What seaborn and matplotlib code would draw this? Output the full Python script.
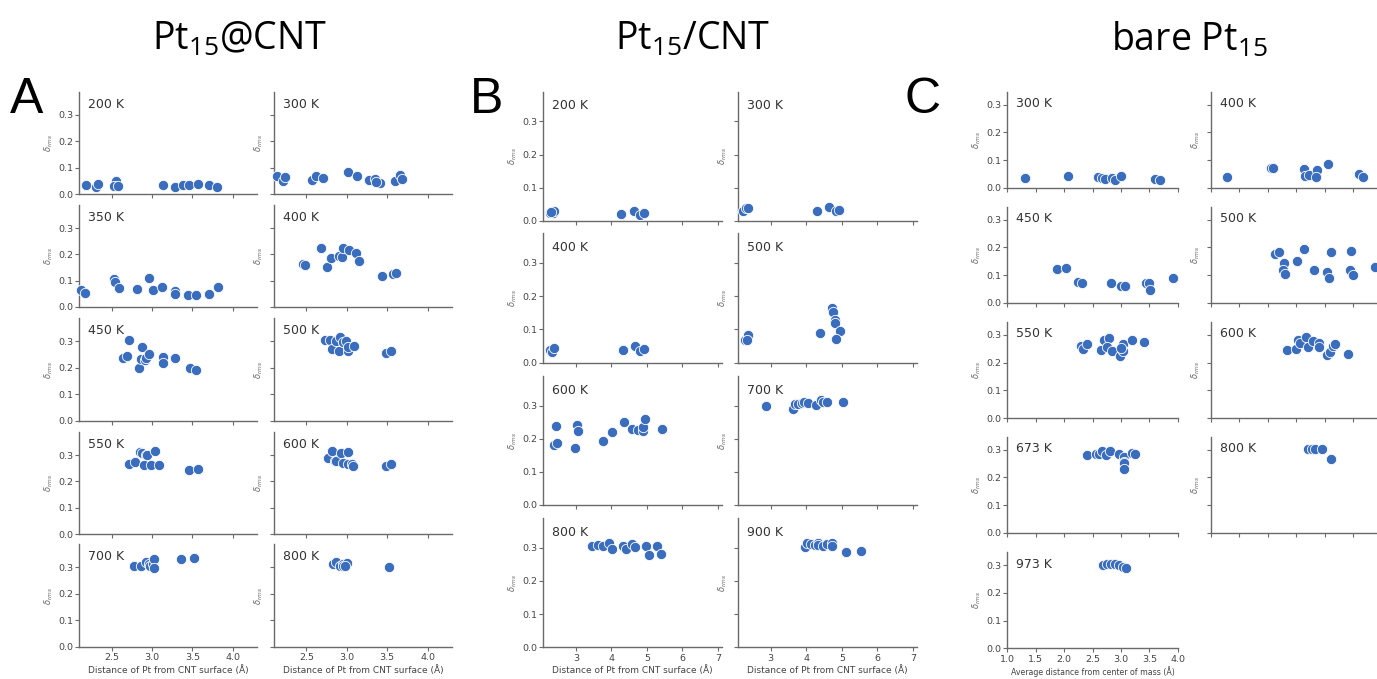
import matplotlib
matplotlib.use("Agg")
import matplotlib.pyplot as plt
import seaborn as sns
import pandas as pd

# ---------------- data ----------------
# Panel A: Pt15@CNT
a_200_x = [2.18, 2.31, 2.33, 2.56, 2.53, 2.58, 3.14, 3.29, 3.39, 3.46, 3.57, 3.70, 3.80]
a_200_y = [0.034, 0.026, 0.037, 0.048, 0.029, 0.029, 0.033, 0.026, 0.033, 0.034, 0.037, 0.034, 0.026]
a_300_x = [2.14, 2.21, 2.23, 2.57, 2.62, 2.70, 3.02, 3.12, 3.28, 3.35, 3.41, 3.36, 3.60, 3.66, 3.68]
a_300_y = [0.067, 0.048, 0.064, 0.053, 0.069, 0.059, 0.082, 0.067, 0.054, 0.058, 0.042, 0.044, 0.050, 0.071, 0.058]
a_350_x = [2.12, 2.17, 2.53, 2.54, 2.59, 2.82, 2.96, 3.01, 3.13, 3.28, 3.28, 3.44, 3.55, 3.71, 3.82]
a_350_y = [0.063, 0.053, 0.106, 0.094, 0.071, 0.067, 0.109, 0.063, 0.076, 0.061, 0.048, 0.046, 0.047, 0.051, 0.077]
a_400_x = [2.46, 2.48, 2.68, 2.75, 2.80, 2.90, 2.94, 2.95, 3.03, 3.11, 3.15, 3.44, 3.57, 3.61]
a_400_y = [0.165, 0.158, 0.223, 0.153, 0.187, 0.195, 0.190, 0.223, 0.216, 0.206, 0.175, 0.119, 0.125, 0.130]
a_450_x = [2.64, 2.69, 2.71, 2.84, 2.88, 2.87, 2.91, 2.93, 2.96, 3.14, 3.14, 3.29, 3.47, 3.54]
a_450_y = [0.238, 0.243, 0.304, 0.200, 0.278, 0.233, 0.228, 0.239, 0.251, 0.241, 0.220, 0.239, 0.200, 0.194]
a_500_x = [2.73, 2.79, 2.82, 2.87, 2.91, 2.90, 2.95, 2.99, 3.02, 3.02, 3.09, 3.49, 3.55]
a_500_y = [0.304, 0.304, 0.273, 0.301, 0.316, 0.262, 0.296, 0.300, 0.262, 0.278, 0.284, 0.256, 0.263]
a_550_x = [2.71, 2.79, 2.85, 2.88, 2.92, 2.94, 2.90, 2.99, 3.04, 3.09, 3.46, 3.57]
a_550_y = [0.266, 0.274, 0.311, 0.308, 0.299, 0.300, 0.262, 0.261, 0.316, 0.262, 0.244, 0.248]
a_600_x = [2.77, 2.82, 2.85, 2.87, 2.93, 2.95, 3.02, 3.02, 3.07, 3.08, 3.48, 3.55]
a_600_y = [0.291, 0.314, 0.276, 0.278, 0.309, 0.271, 0.313, 0.266, 0.268, 0.258, 0.259, 0.265]
a_700_x = [2.78, 2.86, 2.93, 2.96, 2.98, 3.01, 3.02, 3.02, 3.36, 3.52]
a_700_y = [0.304, 0.305, 0.322, 0.314, 0.304, 0.312, 0.331, 0.297, 0.330, 0.335]
a_800_x = [2.83, 2.87, 2.91, 2.95, 2.95, 3.00, 2.98, 3.52]
a_800_y = [0.311, 0.320, 0.306, 0.314, 0.304, 0.316, 0.304, 0.300]

# Panel B: Pt15/CNT
b_200_x = [2.27, 2.34, 2.39, 2.29, 4.28, 4.64, 4.81, 4.92]
b_200_y = [0.022, 0.024, 0.029, 0.027, 0.020, 0.030, 0.018, 0.022]
b_300_x = [2.21, 2.31, 2.36, 4.30, 4.65, 4.82, 4.91]
b_300_y = [0.030, 0.037, 0.039, 0.029, 0.042, 0.029, 0.033]
b_400_x = [2.27, 2.32, 2.38, 4.33, 4.67, 4.81, 4.92]
b_400_y = [0.038, 0.033, 0.045, 0.037, 0.051, 0.036, 0.040]
b_500_x = [2.28, 2.37, 2.32, 4.38, 4.72, 4.74, 4.80, 4.80, 4.94, 4.84]
b_500_y = [0.069, 0.082, 0.067, 0.089, 0.163, 0.152, 0.127, 0.119, 0.095, 0.071]
b_600_x = [2.38, 2.47, 2.44, 2.98, 3.02, 3.05, 3.75, 4.02, 4.35, 4.57, 4.76, 4.88, 4.90, 4.95, 5.43]
b_600_y = [0.182, 0.188, 0.240, 0.172, 0.243, 0.225, 0.194, 0.222, 0.252, 0.229, 0.227, 0.223, 0.235, 0.260, 0.231]
b_700_x = [2.88, 3.63, 3.69, 3.77, 3.89, 3.94, 4.06, 4.27, 4.42, 4.48, 4.58, 5.02]
b_700_y = [0.300, 0.290, 0.304, 0.304, 0.307, 0.311, 0.309, 0.303, 0.317, 0.311, 0.310, 0.310]
b_800_x = [3.46, 3.61, 3.75, 3.93, 4.03, 4.32, 4.40, 4.58, 4.66, 4.98, 5.06, 5.29, 5.41]
b_800_y = [0.306, 0.308, 0.307, 0.316, 0.296, 0.305, 0.298, 0.312, 0.302, 0.307, 0.279, 0.307, 0.282]
b_900_x = [3.96, 4.02, 4.13, 4.23, 4.32, 4.33, 4.48, 4.58, 4.71, 4.72, 5.12, 5.54]
b_900_y = [0.304, 0.314, 0.311, 0.308, 0.314, 0.308, 0.306, 0.312, 0.314, 0.306, 0.286, 0.289]

# Panel C: bare Pt15
c_300_x = [1.32, 2.06, 2.60, 2.67, 2.72, 2.84, 2.90, 3.00, 3.60, 3.69]
c_300_y = [0.034, 0.042, 0.040, 0.034, 0.031, 0.036, 0.028, 0.043, 0.030, 0.028]
c_400_x = [1.29, 2.06, 2.09, 2.64, 2.66, 2.73, 2.86, 2.85, 3.06, 3.60, 3.68]
c_400_y = [0.039, 0.072, 0.070, 0.067, 0.042, 0.046, 0.065, 0.040, 0.086, 0.049, 0.037]
c_450_x = [1.87, 2.03, 2.25, 2.31, 2.82, 3.00, 3.07, 3.44, 3.50, 3.52, 3.91]
c_450_y = [0.122, 0.125, 0.076, 0.072, 0.070, 0.061, 0.059, 0.072, 0.072, 0.046, 0.090]
c_500_x = [2.13, 2.19, 2.29, 2.26, 2.31, 2.52, 2.64, 2.82, 3.05, 3.07, 3.11, 3.46, 3.45, 3.50, 3.88]
c_500_y = [0.175, 0.184, 0.145, 0.120, 0.104, 0.152, 0.194, 0.118, 0.110, 0.090, 0.184, 0.187, 0.118, 0.099, 0.130]
c_550_x = [2.30, 2.34, 2.41, 2.65, 2.71, 2.79, 2.75, 2.84, 2.98, 3.03, 3.03, 3.01, 3.20, 3.41]
c_550_y = [0.261, 0.249, 0.266, 0.245, 0.283, 0.289, 0.255, 0.241, 0.222, 0.266, 0.243, 0.253, 0.283, 0.274]
c_600_x = [2.33, 2.50, 2.54, 2.56, 2.67, 2.70, 2.80, 2.90, 2.91, 3.04, 3.10, 3.14, 3.18, 3.42]
c_600_y = [0.244, 0.249, 0.283, 0.271, 0.293, 0.256, 0.277, 0.271, 0.256, 0.227, 0.239, 0.261, 0.266, 0.232]
c_673_x = [2.40, 2.56, 2.62, 2.66, 2.73, 2.80, 2.97, 3.05, 3.06, 3.06, 3.06, 3.20, 3.25]
c_673_y = [0.281, 0.286, 0.284, 0.296, 0.281, 0.296, 0.284, 0.275, 0.256, 0.251, 0.232, 0.290, 0.286]
c_800_x = [2.70, 2.77, 2.83, 2.95, 3.12]
c_800_y = [0.301, 0.302, 0.302, 0.301, 0.268]
c_973_x = [2.69, 2.75, 2.82, 2.90, 2.96, 3.03, 3.09]
c_973_y = [0.300, 0.303, 0.304, 0.303, 0.300, 0.295, 0.292]

panel_titles = ["Pt$_{15}$@CNT", "Pt$_{15}$/CNT", "bare Pt$_{15}$"]
panel_letters = ["A", "B", "C"]
xlabel_ab = "Distance of Pt from CNT surface (Å)"
xlabel_c = "Average distance from center of mass (Å)"
ylabel = r"$\delta_{rms}$"

# ---------------- style ----------------
sns.set_theme(style="ticks")
plt.rcParams["font.family"] = ["DejaVu Sans"]
plt.rcParams["mathtext.fontset"] = "dejavusans"

W, H = 1377, 679
fig = plt.figure(figsize=(W / 100, H / 100), dpi=100)

POINT = "#3a6dbd"
SPINE = "#6a6a6a"
TXT = "#444444"


def add_ax(x0, top, x1, bottom):
    return fig.add_axes([x0 / W, 1 - bottom / H, (x1 - x0) / W, (bottom - top) / H])


def draw(ax, xs, ys, label, xlim, ylim, xticks, show_ylabels, show_xlabels, xlabel=None):
    df = pd.DataFrame({"x": xs, "y": ys})
    sns.scatterplot(data=df, x="x", y="y", ax=ax, color=POINT, s=55,
                    edgecolor="white", linewidth=0.6, legend=False, zorder=3, clip_on=False)
    ax.set_xlim(*xlim)
    ax.set_ylim(*ylim)
    ax.set_xticks(xticks)
    ax.set_yticks([0.0, 0.1, 0.2, 0.3])
    sns.despine(ax=ax)
    for s in ("left", "bottom"):
        ax.spines[s].set_color(SPINE)
        ax.spines[s].set_linewidth(1.0)
    ax.tick_params(axis="both", length=3, width=0.8, color=SPINE, labelsize=6.8,
                   labelcolor=TXT, pad=1.5)
    if not show_ylabels:
        ax.set_yticklabels([])
    else:
        ax.set_yticklabels(["0.0", "0.1", "0.2", "0.3"])
    if not show_xlabels:
        ax.set_xticklabels([])
    ax.set_ylabel(ylabel, fontsize=6, color="#666666", labelpad=2)
    ax.set_xlabel(xlabel if xlabel else "", fontsize=6.5, color=TXT, labelpad=2)
    ax.text(0.05, 0.94, label, transform=ax.transAxes, ha="left", va="top",
            fontsize=9, color="#333333")


# ---------- Panel A ----------
a_cols = [(79.3, 257), (274, 452)]
a_rows = [(91.7, 194), (205, 307), (318, 421), (432, 534), (544, 647)]
a_data = [[(a_200_x, a_200_y, "200 K"), (a_300_x, a_300_y, "300 K")],
          [(a_350_x, a_350_y, "350 K"), (a_400_x, a_400_y, "400 K")],
          [(a_450_x, a_450_y, "450 K"), (a_500_x, a_500_y, "500 K")],
          [(a_550_x, a_550_y, "550 K"), (a_600_x, a_600_y, "600 K")],
          [(a_700_x, a_700_y, "700 K"), (a_800_x, a_800_y, "800 K")]]
for r, (top, bot) in enumerate(a_rows):
    for c, (x0, x1) in enumerate(a_cols):
        xs, ys, lab = a_data[r][c]
        ax = add_ax(x0, top, x1, bot)
        last = r == len(a_rows) - 1
        draw(ax, xs, ys, lab, (2.1, 4.3), (0, 0.388), [2.5, 3.0, 3.5, 4.0],
             c == 0, last, xlabel_ab if last else None)

# ---------- Panel B ----------
b_cols = [(543.3, 721.7), (738, 917)]
b_rows = [(91.7, 220.7), (233, 362.7), (376, 505), (518, 647.3)]
b_data = [[(b_200_x, b_200_y, "200 K"), (b_300_x, b_300_y, "300 K")],
          [(b_400_x, b_400_y, "400 K"), (b_500_x, b_500_y, "500 K")],
          [(b_600_x, b_600_y, "600 K"), (b_700_x, b_700_y, "700 K")],
          [(b_800_x, b_800_y, "800 K"), (b_900_x, b_900_y, "900 K")]]
for r, (top, bot) in enumerate(b_rows):
    for c, (x0, x1) in enumerate(b_cols):
        xs, ys, lab = b_data[r][c]
        ax = add_ax(x0, top, x1, bot)
        last = r == len(b_rows) - 1
        draw(ax, xs, ys, lab, (2.08, 7.11), (0, 0.39), [3, 4, 5, 6, 7],
             c == 0, last, xlabel_ab if last else None)

# ---------- Panel C ----------
c_cols = [(1007.3, 1177.7), (1211, 1381.4)]
c_rows = [(91.7, 187.7), (206.7, 302.7), (321.7, 418.3), (436.7, 533), (552.3, 648.3)]
c_data = [[(c_300_x, c_300_y, "300 K"), (c_400_x, c_400_y, "400 K")],
          [(c_450_x, c_450_y, "450 K"), (c_500_x, c_500_y, "500 K")],
          [(c_550_x, c_550_y, "550 K"), (c_600_x, c_600_y, "600 K")],
          [(c_673_x, c_673_y, "673 K"), (c_800_x, c_800_y, "800 K")],
          [(c_973_x, c_973_y, "973 K"), None]]
for r, (top, bot) in enumerate(c_rows):
    for c, (x0, x1) in enumerate(c_cols):
        item = c_data[r][c]
        if item is None:
            continue
        xs, ys, lab = item
        ax = add_ax(x0, top, x1, bot)
        last = r == len(c_rows) - 1
        draw(ax, xs, ys, lab, (1.0, 4.0), (0, 0.347),
             [1.0, 1.5, 2.0, 2.5, 3.0, 3.5, 4.0], c == 0, last,
             xlabel_c if last else None)
        if last:
            ax.xaxis.label.set_size(5.7)

# ---------- titles & letters ----------
title_x = [240, 693, 1189]
letter_x = [10, 470, 905]
plt.rcParams["mathtext.fontset"] = "custom"
plt.rcParams["mathtext.rm"] = "Open Sans"
plt.rcParams["mathtext.it"] = "Open Sans:italic"
for t, tx in zip(panel_titles, title_x):
    fig.text(tx / W, 1 - 40 / H, t, ha="center", va="center", fontsize=27,
             family="Open Sans", color="black", math_fontfamily="custom")
for l, lx in zip(panel_letters, letter_x):
    fig.text(lx / W, 1 - 100 / H, l, ha="left", va="center", fontsize=36,
             family="Liberation Sans", color="black")

fig.savefig("out.png", dpi=100, facecolor="white")
